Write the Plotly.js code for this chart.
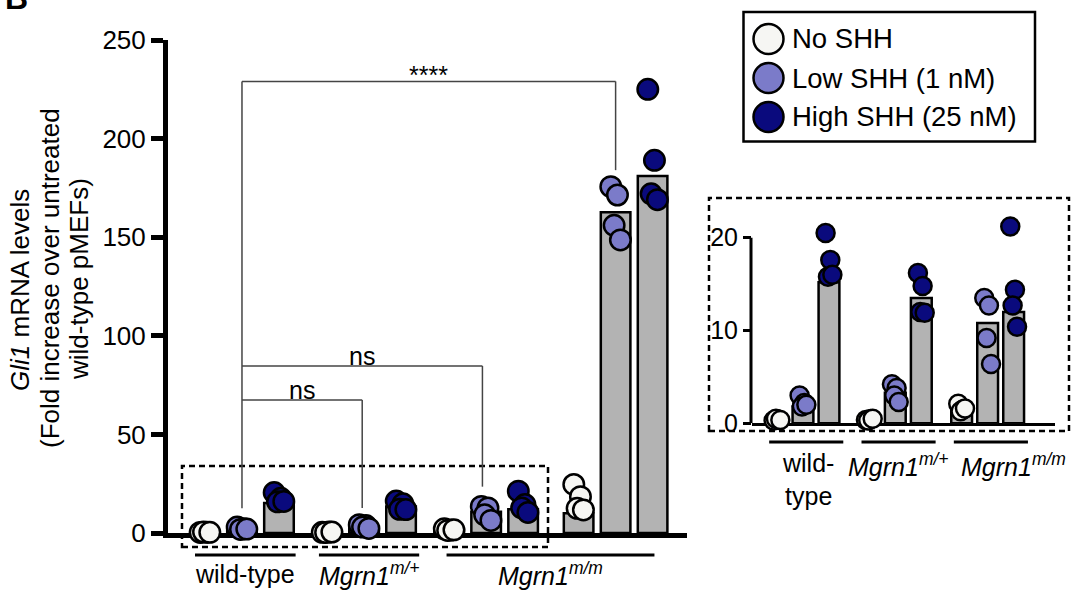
<!DOCTYPE html>
<html>
<head>
<meta charset="utf-8">
<script src="https://cdn.plot.ly/plotly-3.0.1.min.js"></script>
<style>html,body{margin:0;padding:0;background:#fff}</style>
</head>
<body>
<div id="chart" style="width:1071px;height:590px"></div>
<script>
// ---------------- DATA ----------------
const groups = ['wild-type', 'Mgrn1 m/+', 'Mgrn1 m/m', 'Mgrn1 m/m (2)'];
const conditions = ['No SHH', 'Low SHH (1 nM)', 'High SHH (25 nM)'];

// individual replicates per group
const noSHH_points   = [[0.3, 0.4, 0.5, 0.35], [0.35, 0.45, 0.3, 0.5], [2.1, 1.5, 1.3, 1.6], [24.6, 18.4, 12.5, 11.7]];
const lowSHH_points  = [[3.0, 2.2, 1.8, 2.0], [4.2, 3.8, 3.0, 2.3], [13.5, 12.7, 9.2, 6.4], [175.6, 171.4, 156.0, 148.6]];
const highSHH_points = [[20.5, 17.6, 15.8, 16.0], [16.2, 14.8, 12.0, 11.9], [21.2, 14.4, 12.7, 10.4], [225, 189, 172, 169]];

// bar heights per group
const noSHH_bars   = [0.4, 0.4, 1.5, 10];
const lowSHH_bars  = [1.8, 3.3, 10.8, 162.6];
const highSHH_bars = [15.2, 13.5, 12.0, 181];

const mainTicks  = [0, 50, 100, 150, 200, 250];
const insetTicks = [0, 10, 20];

// ---------------- STYLE / LAYOUT HELPERS ----------------
const W = 1071, H = 590;
const px = x => x / W;
const py = y => 1 - y / H;
const colors = ['#f6f6f3', '#7b7bc9', '#0a0a7d'];
const barFill = '#b3b3b3';
const FONT = 'Liberation Sans, Arial, Helvetica, sans-serif';
const mainStart = [0, 3.3, 6.6, 10.1];
const insetStart = [0, 3.55, 7.1];
const jitter = [-0.13, 0.05, -0.04, 0.13];

const pointSets = [noSHH_points, lowSHH_points, highSHH_points];
const barSets = [noSHH_bars, lowSHH_bars, highSHH_bars];

function buildTraces(starts, xa, ya, msize, bw) {
  const bx = [], by = [];
  starts.forEach((s, g) => {
    for (let c = 0; c < 3; c++) { bx.push(s + c); by.push(barSets[c][g]); }
  });
  const traces = [{
    type: 'bar', x: bx, y: by, width: bw, xaxis: xa, yaxis: ya,
    marker: { color: barFill, line: { color: '#000', width: 2.5 } },
    hoverinfo: 'skip', showlegend: false
  }];
  for (let c = 0; c < 3; c++) {
    const sx = [], sy = [];
    starts.forEach((s, g) => {
      pointSets[c][g].forEach((v, i) => { sx.push(s + c + jitter[i]); sy.push(v); });
    });
    traces.push({
      type: 'scatter', mode: 'markers', x: sx, y: sy, xaxis: xa, yaxis: ya,
      name: conditions[c], cliponaxis: false, showlegend: false,
      marker: { size: msize, color: colors[c], line: { color: '#000', width: 2.5 } }
    });
  }
  return traces;
}

const data = [
  ...buildTraces(mainStart, 'x', 'y', 20.5, 0.8),
  ...buildTraces(insetStart, 'x2', 'y2', 18, 0.8)
];

const shapes = [];
const annotations = [];
const lineStyle = { color: '#000', width: 3 };

// dashed boxes
shapes.push({ type: 'rect', xref: 'paper', yref: 'paper', x0: px(182), x1: px(548), y0: py(547), y1: py(466),
  line: { color: '#000', width: 2.5, dash: '6px,4px' } });
shapes.push({ type: 'rect', xref: 'paper', yref: 'paper', x0: px(709), x1: px(1069), y0: py(431), y1: py(198),
  line: { color: '#000', width: 2.5, dash: '6px,4px' } });

// inset y-axis line (0 to 20 only)
shapes.push({ type: 'line', xref: 'paper', yref: 'y2', x0: px(751), x1: px(751), y0: 0, y1: 20,
  line: { color: '#000', width: 3 }, layer: 'below' });

// main group underlines + labels
const mainLabels = [
  { x0: mainStart[0] - 0.27, x1: mainStart[0] + 2.45, text: 'wild-type' },
  { x0: mainStart[1] - 0.22, x1: mainStart[1] + 2.49, text: '<i>Mgrn1</i><sup><i>m/+</i></sup>' },
  { x0: mainStart[2] - 0.07, x1: mainStart[3] + 2.05, text: '<i>Mgrn1</i><sup><i>m/m</i></sup>' }
];
mainLabels.forEach(l => {
  shapes.push({ type: 'line', xref: 'x', yref: 'paper', x0: l.x0, x1: l.x1, y0: py(555), y1: py(555), line: lineStyle });
  annotations.push({ xref: 'x', yref: 'paper', x: (l.x0 + l.x1) / 2, y: py(574), text: l.text, showarrow: false,
    xanchor: 'center', yanchor: 'middle', font: { size: 25 } });
});

// inset underlines + labels
const insetLabels = ['wild-<br>type', '<i>Mgrn1</i><sup><i>m/+</i></sup>', '<i>Mgrn1</i><sup><i>m/m</i></sup>'];
const insetLabelShift = [0.05, 0.0, 0.85];
insetStart.forEach((s, g) => {
  const x0 = s - 0.3, x1 = s + 2.55;
  shapes.push({ type: 'line', xref: 'x2', yref: 'paper', x0: x0, x1: x1, y0: py(442), y1: py(442), line: lineStyle });
  annotations.push({ xref: 'x2', yref: 'paper', x: (x0 + x1) / 2 + insetLabelShift[g], y: py(447), text: insetLabels[g],
    showarrow: false, xanchor: 'center', yanchor: 'top', font: { size: 25 } });
});

// significance brackets
const bLine = { color: '#444', width: 1.5 };
const wtLow = mainStart[0] + 1;
shapes.push({ type: 'line', xref: 'x', yref: 'y', x0: wtLow, x1: wtLow, y0: 12.5, y1: 229, line: bLine });
const brackets = [
  { x: mainStart[1] + 0.95, top: 67.4, bottom: 12.7, text: 'ns' },
  { x: mainStart[2] + 0.9, top: 84.7, bottom: 23.5, text: 'ns' },
  { x: mainStart[3] + 1.0, top: 229, bottom: 184, text: '****' }
];
brackets.forEach(b => {
  shapes.push({ type: 'line', xref: 'x', yref: 'y', x0: wtLow, x1: b.x, y0: b.top, y1: b.top, line: bLine });
  shapes.push({ type: 'line', xref: 'x', yref: 'y', x0: b.x, x1: b.x, y0: b.top, y1: b.bottom, line: bLine });
  annotations.push({ xref: 'x', yref: 'y', x: (wtLow + b.x) / 2, y: b.top, text: b.text, showarrow: false,
    xanchor: 'center', yanchor: 'bottom', yshift: b.text === 'ns' ? -6 : -10, font: { size: 25 } });
});

// legend (drawn)
shapes.push({ type: 'rect', xref: 'paper', yref: 'paper', x0: px(743.5), x1: px(1035), y0: py(141.5), y1: py(12),
  line: { color: '#000', width: 2.5 }, fillcolor: '#fff' });
const legY = [39, 78, 117];
conditions.forEach((c, i) => {
  const r = 15;
  shapes.push({ type: 'circle', xref: 'paper', yref: 'paper', x0: px(768.5 - r), x1: px(768.5 + r), y0: py(legY[i] + r), y1: py(legY[i] - r),
    fillcolor: colors[i], line: { color: '#000', width: 2.5 } });
  annotations.push({ xref: 'paper', yref: 'paper', x: px(790), y: py(legY[i]), text: c, showarrow: false,
    xanchor: 'left', yanchor: 'middle', font: { size: 27.5 } });
});

// y-axis title (three lines)
const yTitle = ['<i>Gli1</i> mRNA levels', '(Fold increase over untreated', 'wild-type pMEFs)'];
const yTitleX = [20, 50, 79];
const yTitleY = [290, 278, 279];
yTitle.forEach((t, i) => {
  annotations.push({ xref: 'paper', yref: 'paper', x: px(yTitleX[i]), y: py(yTitleY[i]), text: t, textangle: -90, showarrow: false,
    xanchor: 'center', yanchor: 'middle', font: { size: 26 } });
});

// panel letter
annotations.push({ xref: 'paper', yref: 'paper', x: px(3), y: py(-2), text: '<b>B</b>', showarrow: false,
  xanchor: 'left', yanchor: 'middle', font: { size: 32 } });

const layout = {
  width: W, height: H,
  margin: { l: 0, r: 0, t: 0, b: 0, pad: 0 },
  paper_bgcolor: '#fff', plot_bgcolor: 'rgba(0,0,0,0)',
  showlegend: false,
  font: { family: FONT, size: 25, color: '#000' },
  xaxis: { domain: [px(168), px(687)], range: [-1, 13.03], showline: true, linewidth: 5, linecolor: '#000',
    showticklabels: false, ticks: '', showgrid: false, zeroline: false, layer: 'below traces', anchor: 'y' },
  yaxis: { domain: [py(533), py(40)], range: [0, 250], tickvals: mainTicks, ticktext: mainTicks.map(String),
    ticks: 'outside', ticklen: 12, tickwidth: 5, tickcolor: '#000', showline: true, linewidth: 5, linecolor: '#000',
    showgrid: false, zeroline: false, tickfont: { size: 26 }, layer: 'below traces', anchor: 'x' },
  xaxis2: { domain: [px(752), px(1055)], range: [-0.96, 10.69], showline: true, linewidth: 3, linecolor: '#000',
    showticklabels: false, ticks: '', showgrid: false, zeroline: false, layer: 'below traces', anchor: 'y2' },
  yaxis2: { domain: [py(423.3), py(423.3 - 22.5 * 9.28)], range: [0, 22.5], tickvals: insetTicks, ticktext: insetTicks.map(String),
    ticks: 'outside', ticklen: 8, tickwidth: 3, tickcolor: '#000', showline: false,
    showgrid: false, zeroline: false, tickfont: { size: 25 }, layer: 'below traces', anchor: 'x2' },
  shapes: shapes,
  annotations: annotations
};

Plotly.newPlot('chart', data, layout, { staticPlot: true, displayModeBar: false });
</script>
</body>
</html>
